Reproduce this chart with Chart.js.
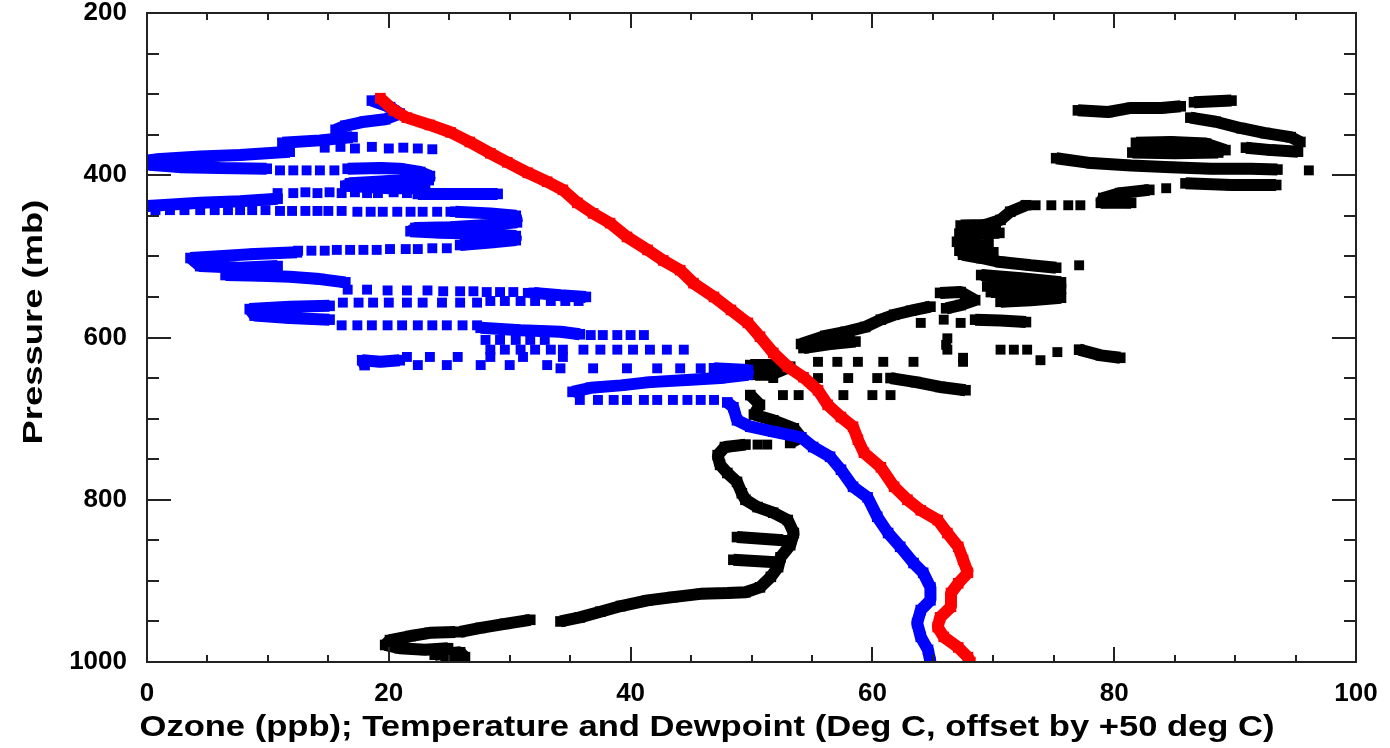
<!DOCTYPE html>
<html>
<head>
<meta charset="utf-8">
<title>Ozone sonde profile</title>
<script src="https://cdn.jsdelivr.net/npm/chart.js@4.4.1/dist/chart.umd.min.js"></script>
<style>
  html, body { margin: 0; padding: 0; background: #fff; }
  #profile { display: block; }
</style>
</head>
<body>
<canvas id="profile" width="1390" height="748"></canvas>
<script>
// Temperature profile (deg C + 50) against pressure (mb)
const tempP = [305, 320, 329, 338, 347, 359, 373, 384, 397, 408, 418, 434, 447, 459, 476, 492, 505, 517, 533, 550,
  566, 582, 599, 619, 636, 649, 665, 683, 698, 710, 726, 742, 760, 784, 800, 813, 825, 841, 858, 874,
  890, 903, 915, 932, 945, 957, 969, 982, 994, 1000];
const tempX = [19.3, 20.4, 21.5, 23.4, 25.1, 26.7, 28.4, 29.8, 31.5, 33.1, 34.4, 35.6, 36.9, 38.3, 39.7, 41.4, 42.7, 44.1, 45.2, 46.9,
  48.3, 49.7, 50.7, 51.8, 53.0, 54.3, 55.5, 56.3, 57.4, 58.4, 58.8, 59.3, 60.7, 61.8, 62.9, 64.0, 65.4, 66.2, 67.1, 67.5,
  67.9, 67.1, 66.5, 66.5, 65.6, 65.4, 65.9, 67.1, 67.9, 68.1];

// Dewpoint (deg C + 50): runs of closely spaced readings, as [value, pressure]
const dewBands = [
  [[18.6, 308], [20.1, 316], [20.9, 324], [19.7, 331], [18.0, 334], [16.4, 339], [15.6, 344]],
  [[17.0, 353], [14.3, 357], [11.2, 360]],
  [[11.8, 371], [7.7, 375], [4.4, 377], [1.1, 380], [0, 382], [0.2, 387], [2.7, 390], [6.0, 391], [9.9, 392]],
  [[16.6, 392], [19.3, 391], [20.9, 392], [22.6, 396], [23.4, 401], [23.3, 406], [20.1, 407], [16.8, 410], [16.4, 413], [20.1, 416], [23.0, 416]],
  [[22.4, 423], [25.1, 423], [27.6, 423], [29.0, 423]],
  [[10.8, 429], [7.7, 432], [4.4, 434], [1.1, 437], [0, 438]],
  [[25.5, 445], [28.4, 447], [30.5, 450], [30.6, 458], [28.4, 461], [25.1, 464], [22.2, 465], [21.8, 469], [24.3, 471], [27.6, 472], [30.5, 475], [30.5, 480], [28.4, 483], [25.9, 486]],
  [[12.4, 495], [8.9, 497], [5.6, 500], [3.6, 502], [4.4, 512], [7.7, 514], [10.8, 512]],
  [[6.5, 523], [9.4, 524], [11.8, 525], [14.3, 528], [16.4, 532]],
  [[32.0, 545], [34.2, 548], [36.3, 550]],
  [[15.1, 561], [11.8, 562], [8.5, 565], [8.9, 573], [11.8, 576], [15.1, 578]],
  [[27.6, 588], [30.9, 591], [34.2, 593], [35.8, 596]],
  [[20.9, 628], [19.3, 630], [17.8, 628], [18.0, 634]],
  [[46.9, 638], [49.7, 640], [49.7, 646], [47.4, 650], [45.0, 652], [41.6, 655], [39.2, 659], [36.7, 662], [35.2, 667]],
  [[48.0, 680], [48.5, 686], [48.8, 702], [49.9, 710], [51.8, 716], [54.1, 723], [55.1, 735], [56.5, 747], [57.4, 763], [58.4, 784],
   [59.6, 797], [60.4, 821], [61.3, 841], [62.3, 858], [63.4, 878], [64.2, 890], [64.8, 908], [64.8, 924], [64.0, 936], [63.7, 952],
   [64.0, 969], [64.6, 985], [64.8, 1000]]
];

// Dewpoint: single readings where the value jumps between levels
const dewDots = [
  [14.7, 366], [16.0, 365], [17.2, 367], [18.6, 365], [20.0, 367], [21.2, 366], [22.4, 367], [23.6, 368],
  [11.0, 394], [12.1, 394], [13.2, 394], [14.3, 394], [15.5, 394],
  [10.8, 422], [12.1, 422], [13.1, 421], [14.1, 422], [15.1, 421], [16.1, 422], [17.2, 421], [18.2, 422], [19.1, 422], [20.4, 421], [21.5, 422],
  [0.7, 443], [1.9, 443], [3.1, 443], [4.4, 443], [5.6, 443], [6.7, 443], [7.7, 443], [8.7, 443], [9.8, 443], [11.0, 444], [12.0, 444],
  [13.1, 444], [14.1, 444], [15.0, 444], [16.1, 444], [17.4, 445], [18.5, 445], [19.5, 445], [20.7, 445], [21.8, 445], [22.8, 445], [24.0, 445], [25.1, 445],
  [24.8, 490], [23.6, 490], [22.4, 491], [21.4, 491], [20.1, 491], [19.0, 492], [17.9, 492], [16.8, 492], [15.7, 492], [14.7, 493], [13.6, 493], [12.5, 493],
  [16.6, 541], [18.2, 541], [19.9, 542], [21.5, 542], [23.2, 542], [24.5, 543], [25.9, 543], [27.0, 543], [28.1, 544], [29.2, 544], [30.3, 544], [31.5, 545],
  [35.7, 555], [34.6, 555], [33.4, 555], [32.1, 555], [30.9, 555], [29.6, 555], [28.4, 555],
  [27.3, 557], [25.9, 557], [24.4, 557], [22.8, 557], [21.5, 557], [20.0, 557], [18.7, 557], [17.5, 557], [16.2, 557],
  [16.1, 585], [17.4, 585], [18.6, 585], [19.9, 585], [21.1, 585], [22.4, 585], [23.6, 585], [24.8, 585], [26.1, 585], [27.3, 585],
  [36.7, 597], [37.7, 597], [38.9, 597], [40.0, 597], [41.1, 597],
  [28.0, 603], [29.2, 603], [30.5, 603], [31.7, 603], [32.9, 603],
  [28.4, 615], [29.6, 615], [30.9, 615], [32.1, 615], [33.4, 615], [34.4, 615], [36.1, 615], [37.5, 615], [38.9, 615], [40.2, 615], [41.6, 615], [43.0, 615], [44.4, 615],
  [34.4, 624], [33.1, 634], [31.1, 624], [30.0, 634], [28.4, 624], [27.6, 634], [25.7, 624], [24.8, 634], [23.4, 624], [22.4, 634], [21.5, 624],
  [34.2, 638], [36.9, 638], [39.7, 638], [42.2, 638], [44.1, 638], [45.8, 638],
  [35.8, 677], [37.3, 677], [38.6, 677], [39.7, 677], [41.1, 677], [42.2, 677], [43.5, 677], [44.7, 677], [45.8, 677], [46.9, 677]
];

// Ozone (ppb): runs of closely spaced readings, as [value, pressure]
const ozoneBands = [
  [[77.0, 320], [79.5, 322], [81.4, 317], [83.9, 317], [85.5, 315]],
  [[86.6, 310], [89.7, 308]],
  [[86.3, 329], [88.4, 334], [90.5, 342], [92.5, 348], [94.6, 353], [95.4, 359]],
  [[90.9, 366], [93.0, 369], [95.2, 371]],
  [[81.8, 360], [84.7, 359], [87.6, 361], [89.2, 369]],
  [[81.5, 372], [85.0, 373], [88.6, 372]],
  [[75.2, 379], [78.1, 385], [81.4, 388], [84.7, 390], [88.0, 392], [91.3, 392], [93.5, 393]],
  [[85.9, 410], [89.7, 412], [93.4, 412]],
  [[82.9, 418], [80.5, 422], [79.1, 428], [78.9, 434], [81.4, 434]],
  [[72.7, 437], [71.4, 445], [70.6, 455], [69.4, 461], [68.1, 465], [67.5, 474], [67.3, 486], [67.5, 498], [69.0, 502], [70.6, 507], [73.1, 511], [75.2, 514]],
  [[67.3, 462], [70.2, 461]],
  [[67.2, 472], [70.5, 471]],
  [[67.0, 482], [69.6, 483]],
  [[67.2, 493], [70.0, 495]],
  [[69.0, 523], [72.3, 527], [75.6, 532]],
  [[69.5, 537], [72.0, 536], [75.6, 540]],
  [[69.8, 544], [72.3, 544], [75.6, 551], [73.1, 554], [70.6, 556]],
  [[65.6, 545], [67.3, 544], [68.5, 554], [67.3, 560], [66.1, 564]],
  [[68.5, 578], [70.6, 579], [72.7, 581]],
  [[64.8, 562], [63.2, 567], [61.8, 572], [60.7, 578], [59.4, 587], [57.8, 593], [56.1, 598], [54.1, 608]],
  [[58.6, 605], [56.5, 608], [54.3, 613]],
  [[77.1, 615], [78.9, 622], [80.5, 625]],
  [[49.9, 634], [51.6, 634], [53.2, 636], [51.6, 646], [50.3, 646]],
  [[61.5, 650], [63.6, 655], [65.6, 661], [67.7, 665]],
  [[49.9, 671], [50.7, 683], [50.2, 695], [51.8, 702], [53.5, 712], [54.1, 723], [53.2, 730]],
  [[49.5, 732], [47.8, 735], [47.2, 745], [47.4, 757], [48.0, 767], [48.8, 778], [49.2, 792], [49.5, 800], [50.5, 809], [51.8, 816],
   [53.0, 825], [53.5, 841], [53.2, 856], [52.4, 871], [52.2, 883], [51.6, 895], [50.7, 908], [49.5, 914], [48.0, 915], [45.8, 916],
   [43.5, 920], [41.4, 924], [39.2, 931], [37.5, 938], [35.8, 945], [34.2, 950]],
  [[48.8, 846], [52.6, 850]],
  [[48.5, 874], [52.0, 877]],
  [[31.7, 948], [29.6, 953], [27.6, 958], [25.9, 963]],
  [[25.5, 963], [23.4, 964], [21.8, 968], [20.1, 973], [19.7, 979], [20.9, 983], [23.0, 985], [24.9, 983]],
  [[23.8, 991], [25.9, 988], [26.3, 994], [24.7, 1000]]
];

// Ozone: single readings
const ozoneDots = [
  [96.1, 394], [84.3, 416], [73.5, 437], [74.8, 437], [76.2, 437], [77.2, 437], [77.1, 511],
  [65.9, 578], [67.3, 582], [64.0, 582], [66.2, 601], [66.1, 609], [66.2, 615],
  [70.6, 615], [71.7, 615], [72.8, 615], [75.3, 618], [73.9, 628], [67.5, 625],
  [55.5, 630], [57.1, 630], [58.8, 630], [60.9, 630], [63.4, 630], [67.5, 630],
  [51.8, 650], [55.5, 650], [58.0, 650], [60.4, 650],
  [52.6, 671], [53.9, 671], [57.6, 671], [60.0, 671], [61.5, 671],
  [51.3, 732], [50.5, 732]
];

const xTicks = [0, 20, 40, 60, 80, 100];
const yTicks = [200, 400, 600, 800, 1000];
const xTitle = 'Ozone (ppb); Temperature and Dewpoint (Deg C, offset by +50 deg C)';
const yTitle = 'Pressure (mb)';

const FONT = "'Liberation Sans', Arial, Helvetica, sans-serif";

// bands become one dataset each colour, broken between runs by a null point
function bandsToPoints(bands) {
  const out = [];
  bands.forEach((band, i) => {
    if (i > 0) out.push({ x: null, y: null });
    band.forEach(([v, p]) => out.push({ x: v, y: p }));
  });
  return out;
}
const dotsToPoints = dots => dots.map(([v, p]) => ({ x: v, y: p }));

function bandSet(data, color, order) {
  return {
    data, order,
    showLine: true,
    spanGaps: false,
    borderColor: color,
    backgroundColor: color,
    borderWidth: 12,
    borderJoinStyle: 'bevel',
    pointStyle: 'rect',
    pointRadius: 7.5,
    pointBorderWidth: 0,
    pointBackgroundColor: color,
    clip: 0
  };
}
function dotSet(data, color, order) {
  return {
    data, order,
    showLine: false,
    backgroundColor: color,
    pointStyle: 'rect',
    pointRadius: 7,
    pointBorderWidth: 0,
    pointBackgroundColor: color,
    clip: 0
  };
}

// frame round the plot with inward ticks on all four sides
const frameTicks = {
  id: 'frameTicks',
  afterDatasetsDraw(chart) {
    const { ctx, chartArea: a, scales: { x, y } } = chart;
    ctx.save();
    ctx.strokeStyle = '#222';
    ctx.lineWidth = 2;
    ctx.strokeRect(a.left, a.top, a.right - a.left, a.bottom - a.top);
    ctx.beginPath();
    for (let v = 0; v <= 100; v += 5) {
      const px = Math.round(x.getPixelForValue(v));
      const len = v % 20 === 0 ? 15 : 7;
      ctx.moveTo(px, a.bottom); ctx.lineTo(px, a.bottom - len);
      ctx.moveTo(px, a.top); ctx.lineTo(px, a.top + len);
    }
    for (let v = 200; v <= 1000; v += 50) {
      const py = Math.round(y.getPixelForValue(v));
      const len = v % 200 === 0 ? 24 : 12;
      ctx.moveTo(a.left, py); ctx.lineTo(a.left + len, py);
      ctx.moveTo(a.right, py); ctx.lineTo(a.right - len, py);
    }
    ctx.stroke();
    ctx.restore();
  }
};

// axis titles in the wide bold lettering of the original
const axisTitles = {
  id: 'axisTitles',
  afterDraw(chart) {
    const { ctx } = chart;
    ctx.save();
    ctx.fillStyle = '#000';
    ctx.textAlign = 'center';
    ctx.textBaseline = 'alphabetic';
    ctx.font = `bold 30px ${FONT}`;
    let w = ctx.measureText(xTitle).width;
    ctx.translate(707, 736);
    ctx.scale(1135 / w, 1);
    ctx.fillText(xTitle, 0, 0);
    ctx.restore();

    ctx.save();
    ctx.fillStyle = '#000';
    ctx.textAlign = 'center';
    ctx.textBaseline = 'alphabetic';
    ctx.font = `bold 28px ${FONT}`;
    w = ctx.measureText(yTitle).width;
    ctx.translate(42, 322);
    ctx.rotate(-Math.PI / 2);
    ctx.scale(245 / w, 1);
    ctx.fillText(yTitle, 0, 0);
    ctx.restore();
  }
};

// keep the plot box where the original has it, whatever the label sizes
function pinX(s) { s.height = 86; s.paddingLeft = 0; s.paddingRight = 0; }
function pinY(s) { s.width = 147; s.paddingTop = 0; s.paddingBottom = 0; }

new Chart(document.getElementById('profile'), {
  type: 'scatter',
  data: {
    datasets: [
      bandSet(tempX.map((v, i) => ({ x: v, y: tempP[i] })), '#ff0000', 1),
      bandSet(bandsToPoints(dewBands), '#0000ff', 2),
      dotSet(dotsToPoints(dewDots), '#0000ff', 2),
      bandSet(bandsToPoints(ozoneBands), '#000000', 3),
      dotSet(dotsToPoints(ozoneDots), '#000000', 3)
    ]
  },
  options: {
    responsive: false,
    animation: false,
    devicePixelRatio: 1,
    layout: { autoPadding: false, padding: { left: 0, right: 34, top: 13, bottom: 0 } },
    plugins: { legend: { display: false }, tooltip: { enabled: false } },
    scales: {
      x: {
        type: 'linear', min: 0, max: 100,
        afterBuildTicks: s => { s.ticks = xTicks.map(v => ({ value: v })); },
        afterFit: pinX,
        grid: { display: false, drawTicks: false },
        border: { display: false },
        ticks: { color: '#000', padding: 16, maxRotation: 0, callback: v => String(v),
          font: { family: FONT, size: 26, weight: 'bold' } },
        title: { display: false }
      },
      y: {
        type: 'linear', min: 200, max: 1000, reverse: true,
        afterBuildTicks: s => { s.ticks = yTicks.map(v => ({ value: v })); },
        afterFit: pinY,
        grid: { display: false, drawTicks: false },
        border: { display: false },
        ticks: { color: '#000', padding: 20, callback: v => String(v),
          font: { family: FONT, size: 26, weight: 'bold' } },
        title: { display: false }
      }
    }
  },
  plugins: [frameTicks, axisTitles]
});
</script>
</body>
</html>
